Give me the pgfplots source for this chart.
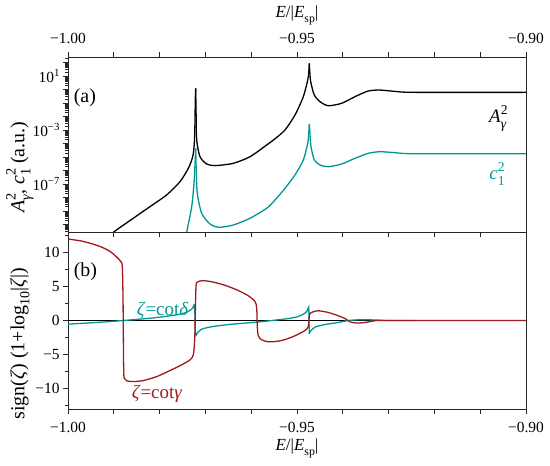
\documentclass[border=0pt]{standalone}
\usepackage{fontspec}
\setmainfont{Liberation Serif}
\usepackage{graphicx}
\usepackage{pgfplots}
\pgfplotsset{compat=1.18}
\definecolor{tealc}{RGB}{0,150,150}
\definecolor{redc}{RGB}{160,25,30}
\newcommand\up[1]{\raisebox{0.42em}{\scalebox{0.7}{#1}}}
\newcommand\dn[1]{\raisebox{-0.25em}{\scalebox{0.7}{#1}}}
\newcommand\supsub[2]{\makebox[0pt][l]{\raisebox{0.45em}{\scalebox{0.72}{#1}}}\raisebox{-0.3em}{\scalebox{0.72}{#2}}}
\def\minorlist{-20}
\foreach \n in {-11,...,2}{\foreach \k in {0.301,0.477,0.602,0.699,0.778,0.845,0.903,0.954}{\pgfmathsetmacro\v{\n+\k}\xdef\minorlist{\minorlist,\v}}}
\pgfplotsset{
  common/.style={
    scale only axis, width=458bp,
    xmin=-1, xmax=-0.9,
    xtick={-1,-0.99,-0.98,-0.97,-0.96,-0.95,-0.94,-0.93,-0.92,-0.91,-0.9},
    xticklabels={−1.00,,,,,−0.95,,,,,−0.90},
    tick align=outside, ytick pos=left,
    major tick length=5bp, minor tick length=2.5bp,
    tick style={black!85, line width=0.8bp},
    axis line style={black!85, line width=0.8bp},
    tick label style={font=\fontsize{15.5}{18}\selectfont},
    label style={font=\fontsize{20}{24}\selectfont},
    xlabel style={font=\fontsize{17}{20}\selectfont},
  },
  curve/.style={line width=1.3bp, smooth, tension=0.45},
}
\begin{document}
\begin{tikzpicture}
\useasboundingbox (0,0) rectangle (550bp,466bp);
\begin{axis}[common, at={(68bp,234bp)}, anchor=south west, height=175bp,
  ymin=-10.56, ymax=2.41,
  xticklabel pos=upper, xtick pos=both,
  xticklabel style={yshift=5bp},
  ytick={-10,-9,-8,-7,-6,-5,-4,-3,-2,-1,0,1,2},
  yticklabels={,,,10\up{−7},,,,10\up{−3},,,,10\up{1},},
  minor ytick/.expanded={\minorlist},
  xlabel={\textit{E}/|\textit{E}\dn{sp}|},
  xlabel style={at={(axis description cs:0.5,1)}, anchor=base, yshift=39bp},
  ylabel={\textit{A}\supsub{2}{\textit{γ}}, \textit{c}\supsub{2}{1} (a.u.)},
  ylabel style={at={(axis description cs:-0.095,0.37)}, anchor=base},
]
\addplot[black, curve] coordinates {
(-0.99127,-11.0) (-0.98996,-10.55) (-0.98574,-9.54) (-0.98210,-8.68) (-0.97845,-7.81)
(-0.97555,-6.83) (-0.97373,-5.84) (-0.97277,-4.98) (-0.97242,-3.99) (-0.97228,-2.5)
(-0.97221,-0.78) (-0.97212,0.09)};
\addplot[black, curve] coordinates {
(-0.97212,0.09) (-0.97203,-1.8) (-0.97190,-3.74) (-0.97118,-4.98)
(-0.96972,-5.52) (-0.96790,-5.64) (-0.96391,-5.47) (-0.96026,-4.98) (-0.95662,-4.11)
(-0.95480,-3.65) (-0.95262,-3.0) (-0.95044,-1.89) (-0.94862,-0.53) (-0.94766,0.70)
(-0.94745,1.2) (-0.94731,1.94)};
\addplot[black, curve] coordinates {
(-0.94731,1.94) (-0.94715,1.0) (-0.94694,0.46) (-0.94622,-0.41)
(-0.94498,-0.90) (-0.94317,-1.20) (-0.94024,-1.02) (-0.93734,-0.53) (-0.93443,-0.11)
(-0.93188,-0.04) (-0.92860,-0.14) (-0.92424,-0.21) (-0.90,-0.21)};
\addplot[tealc, curve] coordinates {
(-0.97430,-11.2) (-0.97408,-10.58) (-0.97299,-8.68) (-0.97249,-6.95) (-0.97228,-5.6)
(-0.97212,-4.36)};
\addplot[tealc, curve] coordinates {
(-0.97212,-4.36) (-0.97200,-6.0) (-0.97177,-7.69) (-0.97081,-9.17) (-0.96900,-9.96)
(-0.96718,-10.21) (-0.96391,-10.04) (-0.96026,-9.54) (-0.95662,-8.80) (-0.95480,-8.19)
(-0.95262,-7.32) (-0.95044,-6.33) (-0.94862,-5.22) (-0.94766,-3.99) (-0.94745,-3.3)
(-0.94731,-2.56)};
\addplot[tealc, curve] coordinates {
(-0.94731,-2.56) (-0.94715,-3.4) (-0.94694,-4.24) (-0.94622,-5.22) (-0.94498,-5.59)
(-0.94317,-5.72) (-0.94024,-5.52) (-0.93734,-5.10) (-0.93443,-4.73) (-0.93188,-4.61)
(-0.92860,-4.68) (-0.92424,-4.76) (-0.90,-4.76)};
\node[anchor=west, font=\fontsize{20}{24}\selectfont] at (axis description cs:0.005,0.77) {(a)};
\node[anchor=base east, font=\fontsize{19}{22}\selectfont] at (axis cs:-0.9035,-2.48)
  {\textit{A}\supsub{2}{\textit{γ}}};
\node[anchor=base east, font=\fontsize{19}{22}\selectfont, text=tealc] at (axis cs:-0.9039,-6.7)
  {\textit{c}\supsub{2}{1}};
\end{axis}
\begin{axis}[common, at={(68bp,57bp)}, anchor=south west, height=177bp,
  ymin=-13, ymax=13, xtick pos=lower,
  xticklabel style={yshift=-5bp},
  ytick={-10,-5,0,5,10}, yticklabels={−10,−5,0,5,10},
  minor ytick={-12.5,-7.5,-2.5,2.5,7.5,12.5},
  xlabel={\textit{E}/|\textit{E}\dn{sp}|},
  xlabel style={at={(axis description cs:0.5,0)}, anchor=base, yshift=-42bp},
  ylabel={sign(\textit{ζ}) (1+log\dn{10}|\textit{ζ}|)},
  ylabel style={at={(axis description cs:-0.095,0.37)}, anchor=base},
]
\addplot[black, line width=0.8bp] coordinates {(-1,0) (-0.9,0)};
\addplot[tealc, curve] coordinates {
(-1.0,-0.53) (-0.99592,-0.38) (-0.99155,-0.19) (-0.98793,0) (-0.98428,0.2)
(-0.98063,0.44) (-0.97773,0.69) (-0.97517,0.98) (-0.97373,1.32) (-0.97277,1.82)
(-0.97242,2.31) (-0.97227,0.59) (-0.97221,-1.37) (-0.97205,-2.2) (-0.97177,-1.86)
(-0.97081,-1.27) (-0.96828,-0.88) (-0.96391,-0.53) (-0.95880,-0.24) (-0.95480,0.05)
(-0.95190,0.29) (-0.94972,0.59) (-0.94825,1.08) (-0.94766,1.57) (-0.94744,1.97)
(-0.94738,0.1) (-0.94731,-1.86) (-0.94710,-1.62) (-0.94607,-0.97) (-0.94389,-0.59)
(-0.94098,-0.29) (-0.93880,0) (-0.93662,0.1) (-0.93443,0.1) (-0.93225,0.06)
(-0.93007,0) (-0.92424,0)};
\addplot[redc, curve] coordinates {
(-1.0,11.97) (-0.99668,11.62) (-0.99301,10.88) (-0.99083,10.15) (-0.98937,9.32)
(-0.98849,8.68) (-0.98814,7.94) (-0.98799,3.53) (-0.98793,-1.37) (-0.98784,-7.25)
(-0.98771,-8.47) (-0.98718,-8.87) (-0.98574,-8.97) (-0.98356,-8.82) (-0.98063,-8.24)
(-0.97773,-7.35) (-0.97517,-6.51) (-0.97336,-5.78) (-0.97264,-5.04) (-0.97234,-2.84)
(-0.97221,1.08) (-0.97205,5.0) (-0.97177,5.64) (-0.97081,5.84) (-0.96900,5.74)
(-0.96609,5.25) (-0.96317,4.51) (-0.96063,3.63) (-0.95917,2.79) (-0.95880,1.82)
(-0.95867,-0.88) (-0.95845,-2.25) (-0.95771,-2.84) (-0.95627,-3.13) (-0.95480,-3.09)
(-0.95334,-2.94) (-0.95116,-2.45) (-0.94897,-1.76) (-0.94788,-1.27) (-0.94753,-0.88)
(-0.94738,0.1) (-0.94723,0.98) (-0.94644,1.28) (-0.94535,1.43) (-0.94317,1.18)
(-0.94098,0.69) (-0.93952,0.29) (-0.93843,-0.19) (-0.93696,-0.38) (-0.93515,-0.29)
(-0.93297,-0.04) (-0.93079,0) (-0.90,0)};
\node[anchor=west, font=\fontsize{20}{24}\selectfont] at (axis description cs:0.005,0.776) {(b)};
\node[anchor=base west, font=\fontsize{19}{22}\selectfont, text=tealc] at (axis cs:-0.98574,0.7)
  {\textit{ζ}=cot\textit{δ}};
\node[anchor=base west, font=\fontsize{19}{22}\selectfont, text=redc] at (axis cs:-0.98683,-11.4)
  {\textit{ζ}=cot\textit{γ}};
\end{axis}
\end{tikzpicture}
\end{document}
